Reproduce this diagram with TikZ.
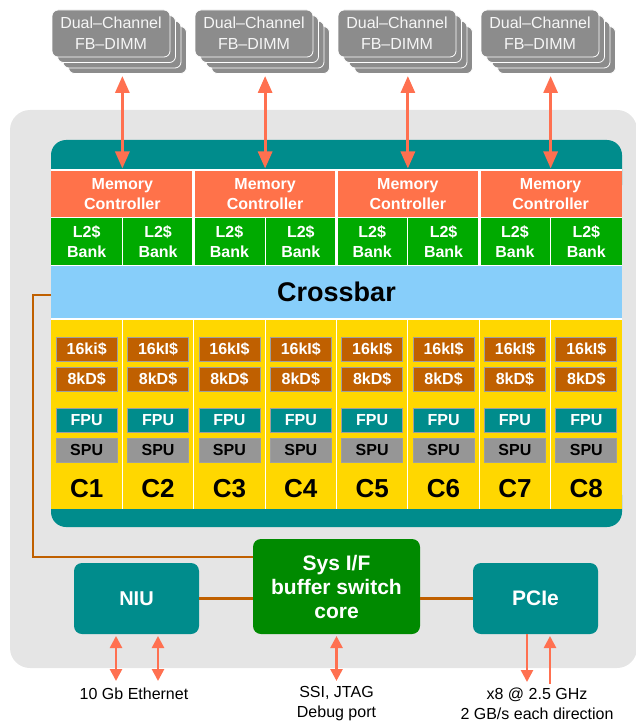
\documentclass[tikz,border=0pt]{standalone}
\usepackage{fontspec}
\setmainfont{Liberation Sans}
\usetikzlibrary{arrows.meta,calc}
\definecolor{bggray}{RGB}{229,229,229}
\definecolor{chipteal}{RGB}{0,140,140}
\definecolor{mcorange}{RGB}{255,114,74}
\definecolor{ltwogreen}{RGB}{0,170,0}
\definecolor{xbarblue}{RGB}{135,206,250}
\definecolor{coreyellow}{RGB}{255,215,0}
\definecolor{cachebrown}{RGB}{192,96,0}
\definecolor{spugray}{RGB}{150,150,150}
\definecolor{sysgreen}{RGB}{0,138,0}
\definecolor{dimmgray}{RGB}{140,140,140}
\definecolor{arrowcoral}{RGB}{255,112,80}
\definecolor{linkbrown}{RGB}{192,96,0}
\newcommand\setfs[2]{\fontsize{#1}{#2}\selectfont}
\begin{document}
\begin{tikzpicture}[x=1pt,y=-1pt,
  every node/.style={inner sep=0pt,outer sep=0pt,align=center},
  dimmback/.style={fill=dimmgray,draw=white,line width=0.8pt,rounded corners=6pt},
  dimmnode/.style={fill=dimmgray,draw=white,line width=0.8pt,rounded corners=6pt,
    minimum width=118pt,minimum height=47pt,text=white!93!gray,font=\setfs{16}{21}},
  mcbox/.style={fill=mcorange,minimum width=142.75pt,minimum height=46pt,
    text=white,font=\setfs{16}{19.5}\bfseries},
  ltwobox/.style={fill=ltwogreen,minimum width=71.375pt,minimum height=47pt,
    text=white,font=\setfs{16}{20}\bfseries},
  xbarbox/.style={fill=xbarblue,minimum width=571pt,minimum height=52pt,
    font=\setfs{27}{30}\bfseries},
  corebox/.style={fill=coreyellow,minimum width=71.375pt,minimum height=189pt},
  unitbox/.style={fill=#1,draw=gray!75,line width=0.8pt,minimum width=61pt,
    minimum height=24pt,font=\setfs{16}{18}\bfseries},
  corelabel/.style={font=\setfs{26}{28}\bfseries},
  sep/.style={draw=white,line width=#1},
  blockbox/.style={fill=#1,rounded corners=8pt,text=white},
  memarr/.style={draw=arrowcoral,line width=3pt,
    {Triangle[width=14pt,length=17pt]}-{Triangle[width=14pt,length=17pt]}},
  ioarr/.style={draw=arrowcoral,line width=2.6pt},
  link/.style={draw=linkbrown,line width=2.6pt},
  iotext/.style={font=\setfs{16}{20}}
]
\useasboundingbox (0,0) rectangle (635,722);
% background
\fill[bggray,rounded corners=20pt] (10,110) rectangle (637,668);
% chip frame
\fill[chipteal,rounded corners=15pt] (51,140) rectangle (622,200);
\fill[chipteal,rounded corners=15pt] (51,480) rectangle (622,527);
\fill[white] (51,169) rectangle (622,509);
% memory controllers
\foreach \j in {0,...,3}{
  \node[mcbox] (mc\j) at ({122.375+142.75*\j},194) {Memory\\Controller};
}
% L2 banks and cores
\foreach \k in {0,...,7}{
  \node[ltwobox] (ltwo\k) at ({51+71.375*(\k+0.5)},241.5) {L2\$\\Bank};
  \node[corebox] (core\k) at ({51+71.375*(\k+0.5)},414.5) {};
}
\node[xbarbox] (xbar) at (336.5,292) {Crossbar};
% separators
\foreach \j in {1,2,3}{
  \draw[sep=3pt] ({51+142.75*\j},170) -- ({51+142.75*\j},265.5);
}
\foreach \j in {0,...,3}{
  \draw[sep=1pt] ({122.375+142.75*\j},218) -- ({122.375+142.75*\j},265.5);
}
\foreach \k in {1,...,7}{
  \draw[sep=1pt] ({51+71.375*\k},320) -- ({51+71.375*\k},509);
}
% core contents
\foreach \k in {0,...,7}{
  \pgfmathsetmacro{\cx}{51+71.375*(\k+0.5)}
  \pgfmathtruncatemacro{\cn}{\k+1}
  \ifnum\k=0
    \node[unitbox=cachebrown,text=white] (ic\k) at (\cx,349) {16ki\$};
  \else
    \node[unitbox=cachebrown,text=white] (ic\k) at (\cx,349) {16kI\$};
  \fi
  \node[unitbox=cachebrown,text=white] (dc\k) at (\cx,379) {8kD\$};
  \node[unitbox=chipteal,text=white] (fpu\k) at (\cx,420) {FPU};
  \node[unitbox=spugray,text=black] (spu\k) at (\cx,450) {SPU};
  \node[corelabel] (cl\k) at (\cx,489) {C\cn};
}
% DIMMs
\foreach \j in {0,...,3}{
  \foreach \o in {16.5,11,5.5}{
    \draw[dimmback] ({52+143*\j+\o},{10+\o}) rectangle ++(118,47);
  }
  \node[dimmnode] (dimm\j) at ({111+143*\j},33.5) {Dual–Channel\\FB–DIMM};
  \draw[memarr] ($(mc\j.north)+(0,-95)$) -- ($(mc\j.north)+(0,-2.5)$);
}
% system blocks
\node[blockbox=sysgreen,minimum width=167pt,minimum height=95pt,
  font=\setfs{21}{24}\bfseries] (sys) at (336.5,586.5) {Sys I/F\\buffer switch\\core};
\node[blockbox=chipteal,minimum width=125pt,minimum height=71pt,
  font=\setfs{20}{22}\bfseries] (niu) at (136.5,598.5) {NIU};
\node[blockbox=chipteal,minimum width=125pt,minimum height=71pt,
  font=\setfs{21}{22}\bfseries] (pcie) at (535.5,598.5) {PCIe};
% links
\draw[link] ($(xbar.west)+(0,3)$) -- ++(-18,0) |- ($(sys.west)+(0,-29.5)$);
\draw[link] (niu.east) -- (niu.east -| sys.west);
\draw[link] (sys.east |- pcie.west) -- (pcie.west);
% io labels
\node[iotext] (eth) at (134,694) {10 Gb Ethernet};
\node[iotext] (jtag) at (336.5,704) {SSI, JTAG\\Debug port};
\node[iotext] (pcitxt) at (537,704) {x8 @ 2.5 GHz\\2 GB/s each direction};
% io arrows
\draw[ioarr,{Triangle[width=12pt,length=12pt]}-{Triangle[width=12pt,length=12pt]}]
  ($(niu.south)+(-20.5,2)$) -- ($(niu.south)+(-20.5,47)$);
\draw[ioarr,{Triangle[width=12pt,length=12pt]}-{Triangle[width=12pt,length=12pt]}]
  ($(niu.south)+(21.5,2)$) -- ($(niu.south)+(21.5,47)$);
\draw[ioarr,{Triangle[width=12pt,length=12pt]}-{Triangle[width=12pt,length=12pt]}]
  ($(sys.south)+(0,2)$) -- ($(sys.south)+(0,47)$);
\draw[ioarr,-{Triangle[width=12pt,length=12pt]}]
  ($(pcie.south)+(-8.5,0)$) -- ($(pcie.south)+(-8.5,48)$);
\draw[ioarr,-{Triangle[width=12pt,length=12pt]}]
  ($(pcie.south)+(14.5,50)$) -- ($(pcie.south)+(14.5,2)$);
\end{tikzpicture}
\end{document}
